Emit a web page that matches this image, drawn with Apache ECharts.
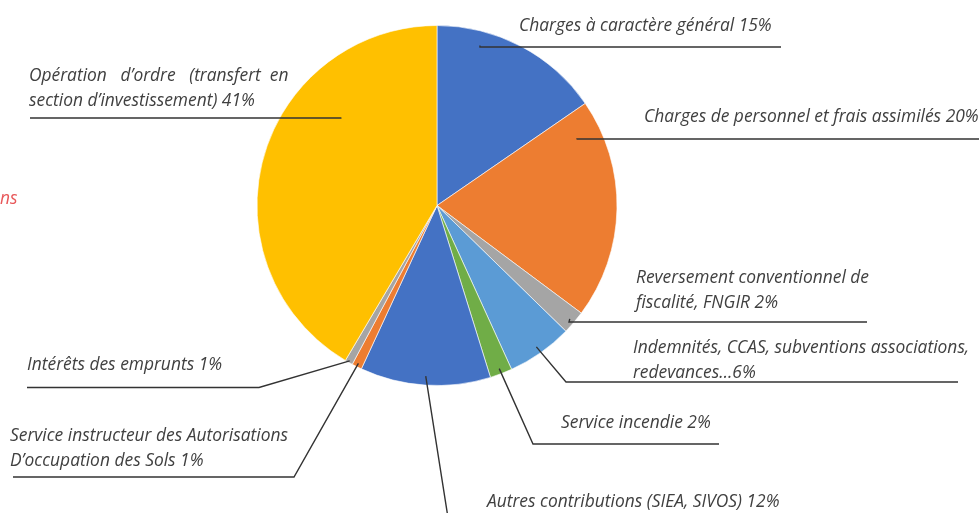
<!DOCTYPE html>
<html>
<head>
<meta charset="utf-8">
<script src="https://cdn.jsdelivr.net/npm/echarts@6/dist/echarts.min.js"></script>
<style>
html,body{margin:0;padding:0;background:#fff;}
#chart{width:979px;height:513px;}
</style>
</head>
<body>
<div id="chart"></div>
<script>
// ---- data ----
const categories = [
  "Charges à caractère général",
  "Charges de personnel et frais assimilés",
  "Reversement conventionnel de\nfiscalité, FNGIR",
  "Indemnités, CCAS, subventions associations,\nredevances…",
  "Service incendie",
  "Autres contributions (SIEA, SIVOS)",
  "Service instructeur des Autorisations\nD’occupation des Sols",
  "Intérêts des emprunts",
  "Opération   d’ordre   (transfert  en\nsection d’investissement)"
];
const values = [15.4, 19.8, 2.1, 5.9, 2.0, 11.7, 0.9, 0.7, 41.5];
const pctLabels = ["15%", "20%", "2%", "6%", "2%", "12%", "1%", "1%", "41%"];
const separators = [" ", " ", " ", "", " ", " ", " ", " ", " "];

// ---- styling / layout ----
const colors = ["#4472C4", "#ED7D31", "#A5A5A5", "#5B9BD5", "#70AD47", "#4472C4", "#ED7D31", "#A5A5A5", "#FFC000"];
const CX = 437, CY = 205.5, R = 180;
// label box: x, y (top), underline y, underline near x, far x, anchor radius fraction, anchor angle offset (deg)
const labelBoxes = [
  {x: 519, y: 14, uy: 47, nx: 480, fx: 781, f: 0.92, da: -12.7},
  {x: 644, y: 105, uy: 139, nx: 577, fx: 979, f: 0.86, da: -26.3},
  {x: 636, y: 266, uy: 322, nx: 569, fx: 867, f: 0.97, da: 0},
  {x: 633, y: 336, uy: 382, nx: 566, fx: 958, f: 0.96, da: 0},
  {x: 561, y: 411, uy: 444, nx: 533, fx: 719, f: 0.97, da: 0},
  {x: 487, y: 490, uy: 524, nx: 449, fx: 790, f: 0.95, da: 0},
  {x: 10, y: 423.5, uy: 477, nx: 294, fx: 13, f: 0.98, da: 0},
  {x: 27, y: 352.5, uy: 387.5, nx: 259, fx: 27, f: 0.99, da: 0},
  {x: 29, y: 64, uy: 118, nx: 341, fx: 30, f: 0.72, da: 27.2}
];

const total = values.reduce((a, b) => a + b, 0);
const midAngles = [];
let acc = 0;
values.forEach(v => { midAngles.push((acc + v / 2) / total * 360); acc += v; });

const sliceData = categories.map((c, i) => ({
  name: c, value: values[i], itemStyle: {color: colors[i]}
}));
const labelData = categories.map((c, i) => ({
  name: c, value: values[i], itemStyle: {color: 'rgba(0,0,0,0)'}
}));

const chart = echarts.init(document.getElementById('chart'), null, {renderer: 'canvas'});
chart.setOption({
  backgroundColor: '#ffffff',
  animation: false,
  graphic: [{
    type: 'text', left: 0, top: 191,
    style: {text: 'ns', fill: '#E8585A', font: 'italic 17.4px "Open Sans"'}
  }],
  series: [{
    type: 'pie',
    z: 2,
    center: [CX, CY],
    radius: R,
    startAngle: 90,
    clockwise: true,
    silent: true,
    itemStyle: {borderColor: '#ffffff', borderWidth: 0.6},
    label: {show: false},
    labelLine: {show: false},
    data: sliceData
  }, {
    type: 'pie',
    z: 5,
    center: [CX, CY],
    radius: R,
    startAngle: 90,
    clockwise: true,
    silent: true,
    avoidLabelOverlap: false,
    itemStyle: {borderWidth: 0},
    label: {
      show: true,
      position: 'outside',
      fontFamily: 'Open Sans',
      fontStyle: 'italic',
      fontSize: 17.4,
      lineHeight: 25,
      color: '#404040',
      formatter: p => p.name + separators[p.dataIndex] + pctLabels[p.dataIndex]
    },
    labelLine: {show: true, showAbove: true, lineStyle: {color: '#333333', width: 1.4}},
    labelLayout: function (p) {
      const i = p.dataIndex;
      const L = labelBoxes[i];
      const ang = (midAngles[i] + L.da) * Math.PI / 180;
      const r = R * L.f;
      const ax = CX + r * Math.sin(ang), ay = CY - r * Math.cos(ang);
      return {
        x: L.x, y: L.y, align: 'left', verticalAlign: 'top',
        labelLinePoints: [[ax, ay], [L.nx, L.uy], [L.fx, L.uy]]
      };
    },
    data: labelData
  }]
});
</script>
</body>
</html>
